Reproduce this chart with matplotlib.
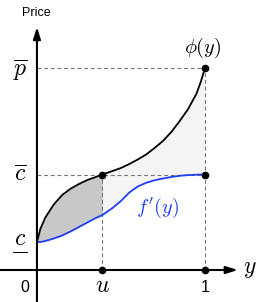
import matplotlib.pyplot as plt

plt.rcParams['mathtext.fontset'] = 'cm'
plt.rcParams['font.family'] = ['Liberation Sans', 'DejaVu Sans']

# levels
c_low = 0.277
c_bar = 0.955
p_bar = 2.02
u = 0.39

# common grid for both curves
ys = [0, 0.02, 0.05, 0.1, 0.15, 0.2, 0.25, 0.3, 0.35, 0.39, 0.45, 0.5,
      0.55, 0.6, 0.65, 0.7, 0.75, 0.8, 0.85, 0.9, 0.95, 0.975, 1.0]
phi = [0.277, 0.41, 0.525, 0.655, 0.75, 0.813, 0.86, 0.9, 0.93, 0.955, 0.99,
       1.02, 1.06, 1.105, 1.155, 1.22, 1.29, 1.38, 1.49, 1.61, 1.765, 1.88, 2.02]
fprime = [0.277, 0.28, 0.29, 0.315, 0.345, 0.385, 0.43, 0.475, 0.52, 0.55,
          0.62, 0.69, 0.775, 0.835, 0.872, 0.897, 0.915, 0.93, 0.942, 0.949,
          0.953, 0.954, 0.955]

fig = plt.figure(figsize=(2.56, 3.02), dpi=100)
ax = fig.add_axes([0, 0, 1, 1])
ax.set_xlim(-0.22, 1.304)
ax.set_ylim(-0.32, 2.70)
ax.axis('off')

left = [i for i, y in enumerate(ys) if y <= u]
right = [i for i, y in enumerate(ys) if y >= u]
ax.fill_between([ys[i] for i in left], [phi[i] for i in left],
                [fprime[i] for i in left], color='#c8c8c8', lw=0)
ax.fill_between([ys[i] for i in right], [phi[i] for i in right],
                [fprime[i] for i in right], color='#f4f4f4', lw=0)

dash = dict(color='#777777', lw=0.8, ls=(0, (3.5, 2.5)))
ax.plot([0, 1], [p_bar, p_bar], **dash)
ax.plot([1, 1], [0, p_bar], **dash)
ax.plot([0, 1], [c_bar, c_bar], **dash)
ax.plot([u, u], [0, c_bar], **dash)

# axes with arrows
ax.annotate('', xy=(0, 2.43), xytext=(0, -0.33),
            arrowprops=dict(arrowstyle='-|>,head_length=0.7,head_width=0.22',
                            lw=1.5, color='k', shrinkA=0, shrinkB=0))
ax.annotate('', xy=(1.196, 0), xytext=(-0.23, 0),
            arrowprops=dict(arrowstyle='-|>,head_length=0.7,head_width=0.22',
                            lw=1.5, color='k', shrinkA=0, shrinkB=0))

ax.plot(ys, phi, color='k', lw=1.3, solid_capstyle='round',
        solid_joinstyle='round')
ax.plot(ys, fprime, color='#1f3ff5', lw=1.3, solid_capstyle='round',
        solid_joinstyle='round')

ax.plot([u, 1, 1, u, 1], [c_bar, p_bar, c_bar, 0, 0], 'o', color='k', ms=4.5)

ax.text(-0.006, 2.57, 'Price', fontsize=9, ha='center', va='center')
ax.text(-0.101, 2.0, r'$\overline{p}$', fontsize=17, ha='center', va='center')
ax.text(-0.101, 0.95, r'$\overline{c}$', fontsize=17, ha='center', va='center')
ax.text(-0.101, c_low + 0.03, r'$c$', fontsize=17, ha='center', va='center')
ax.plot([-0.141, -0.061], [c_low - 0.095, c_low - 0.095], color='k', lw=0.7)
ax.text(-0.071, -0.17, '0', fontsize=11.5, ha='center', va='center')
ax.text(u, -0.16, r'$u$', fontsize=17, ha='center', va='center')
ax.text(1.0, -0.17, '1', fontsize=11.5, ha='center', va='center')
ax.text(1.268, 0.01, r'$y$', fontsize=17, ha='center', va='center')
ax.text(0.988, 2.22, r'$\phi(y)$', fontsize=14.5, ha='center', va='center')
ax.text(0.72, 0.62, r"$f'(y)$", fontsize=14.5, ha='center', va='center',
        color='#1f3ff5')

fig.savefig('out.png', dpi=100)
